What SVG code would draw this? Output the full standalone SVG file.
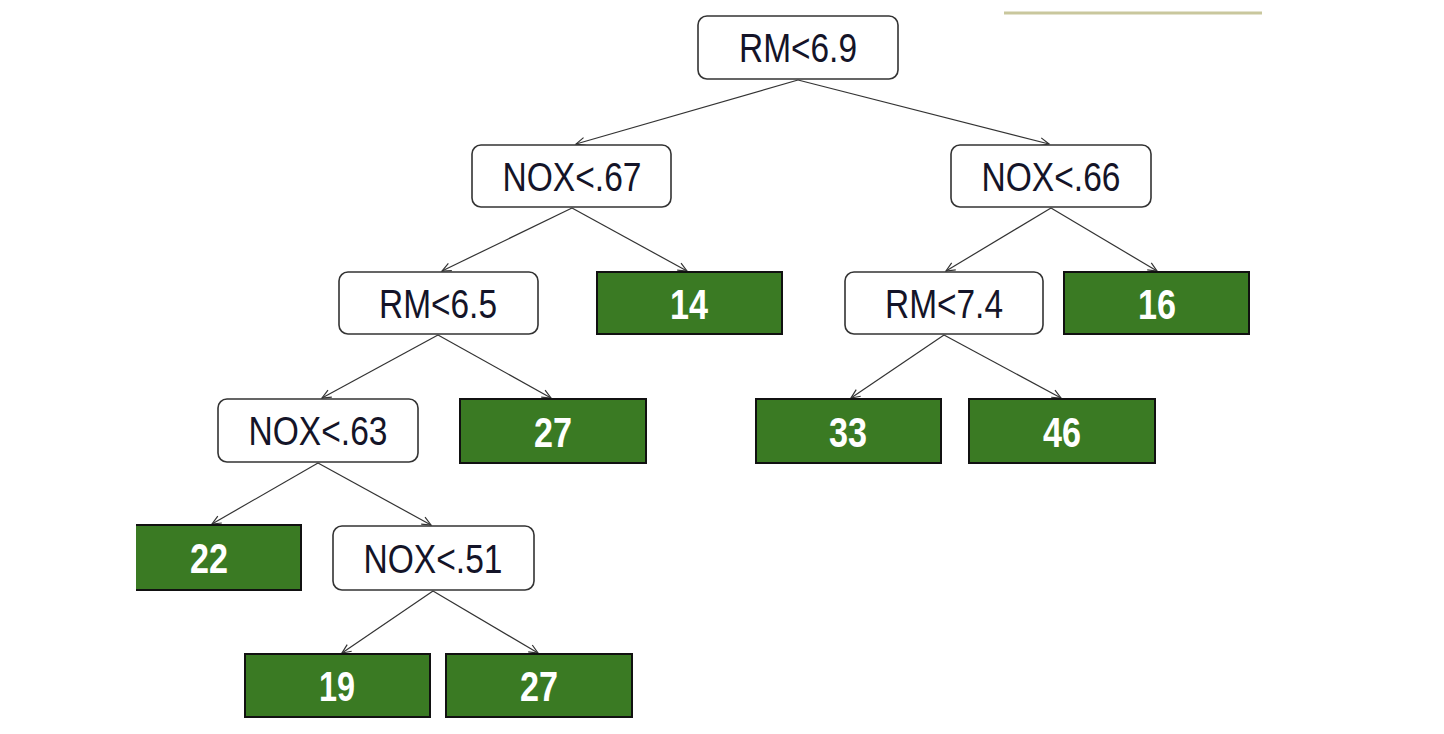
<svg xmlns="http://www.w3.org/2000/svg" width="1444" height="734" viewBox="0 0 1444 734">
<defs>
<marker id="arr" markerUnits="userSpaceOnUse" markerWidth="14" markerHeight="12" refX="10" refY="5" orient="auto">
<path d="M1,1 L10,5 L1,9" fill="none" stroke="#333" stroke-width="1.2"/>
</marker>
<style>
.split rect{fill:#fff;stroke:#333;stroke-width:1.6}
.leaf rect{fill:#3a7a23;stroke:#111;stroke-width:2}
.split text{font-family:"Liberation Sans Narrow","Liberation Sans",Arial,sans-serif;font-size:41px;fill:#141428;text-anchor:middle}
.leaf text{font-family:"Liberation Sans Narrow","Liberation Sans",Arial,sans-serif;font-size:42px;font-weight:bold;fill:#fff;text-anchor:middle}
#edges line{stroke:#333;stroke-width:1.2;marker-end:url(#arr)}
</style>
</defs>
<rect width="1444" height="734" fill="#fff"/>
<line x1="1004" y1="13" x2="1262" y2="13" stroke="#c9c79d" stroke-width="3"/>
<g id="edges">
<line x1="798" y1="80" x2="576" y2="144"/>
<line x1="798" y1="80" x2="1049" y2="144"/>
<line x1="572" y1="208" x2="442" y2="271"/>
<line x1="572" y1="208" x2="687" y2="271"/>
<line x1="1051" y1="208" x2="946" y2="271"/>
<line x1="1051" y1="208" x2="1157" y2="271"/>
<line x1="438" y1="335" x2="322" y2="398"/>
<line x1="438" y1="335" x2="551" y2="398"/>
<line x1="944" y1="335" x2="851" y2="398"/>
<line x1="944" y1="335" x2="1061" y2="398"/>
<line x1="318" y1="463" x2="212" y2="524"/>
<line x1="318" y1="463" x2="431" y2="525"/>
<line x1="433" y1="591" x2="342" y2="653"/>
<line x1="433" y1="591" x2="538" y2="653"/>
</g>
<g id="n-rm69" class="split"><rect x="698" y="16" width="200" height="63" rx="9"/><text x="798" y="62" textLength="118" lengthAdjust="spacingAndGlyphs">RM&lt;6.9</text></g>
<g id="n-nox67" class="split"><rect x="472" y="145" width="199" height="62" rx="9"/><text x="572" y="191" textLength="139" lengthAdjust="spacingAndGlyphs">NOX&lt;.67</text></g>
<g id="n-nox66" class="split"><rect x="951" y="145" width="200" height="62" rx="9"/><text x="1051" y="191" textLength="139" lengthAdjust="spacingAndGlyphs">NOX&lt;.66</text></g>
<g id="n-rm65" class="split"><rect x="339" y="272" width="199" height="62" rx="9"/><text x="438" y="318" textLength="118" lengthAdjust="spacingAndGlyphs">RM&lt;6.5</text></g>
<g id="n-14" class="leaf"><rect x="597" y="272" width="185" height="62"/><text x="689" y="319" textLength="38" lengthAdjust="spacingAndGlyphs">14</text></g>
<g id="n-rm74" class="split"><rect x="845" y="272" width="198" height="62" rx="9"/><text x="944" y="318" textLength="118" lengthAdjust="spacingAndGlyphs">RM&lt;7.4</text></g>
<g id="n-16" class="leaf"><rect x="1064" y="272" width="185" height="62"/><text x="1157" y="319" textLength="38" lengthAdjust="spacingAndGlyphs">16</text></g>
<g id="n-nox63" class="split"><rect x="218" y="399" width="200" height="63" rx="9"/><text x="318" y="445" textLength="139" lengthAdjust="spacingAndGlyphs">NOX&lt;.63</text></g>
<g id="n-27a" class="leaf"><rect x="460" y="399" width="186" height="64"/><text x="553" y="447" textLength="38" lengthAdjust="spacingAndGlyphs">27</text></g>
<g id="n-33" class="leaf"><rect x="756" y="399" width="185" height="64"/><text x="848" y="447" textLength="38" lengthAdjust="spacingAndGlyphs">33</text></g>
<g id="n-46" class="leaf"><rect x="969" y="399" width="186" height="64"/><text x="1062" y="447" textLength="38" lengthAdjust="spacingAndGlyphs">46</text></g>
<g id="n-22" class="leaf"><rect x="136" y="525" width="165" height="65" style="stroke:none"/><path d="M136,525 H301 V590 H136" fill="none" stroke="#111" stroke-width="2"/><text x="209" y="573" textLength="38" lengthAdjust="spacingAndGlyphs">22</text></g>
<g id="n-nox51" class="split"><rect x="333" y="526" width="201" height="64" rx="9"/><text x="433" y="573" textLength="139" lengthAdjust="spacingAndGlyphs">NOX&lt;.51</text></g>
<g id="n-19" class="leaf"><rect x="245" y="654" width="185" height="63"/><text x="337" y="701" textLength="36" lengthAdjust="spacingAndGlyphs">19</text></g>
<g id="n-27b" class="leaf"><rect x="446" y="654" width="186" height="63"/><text x="539" y="701" textLength="38" lengthAdjust="spacingAndGlyphs">27</text></g>
</svg>
